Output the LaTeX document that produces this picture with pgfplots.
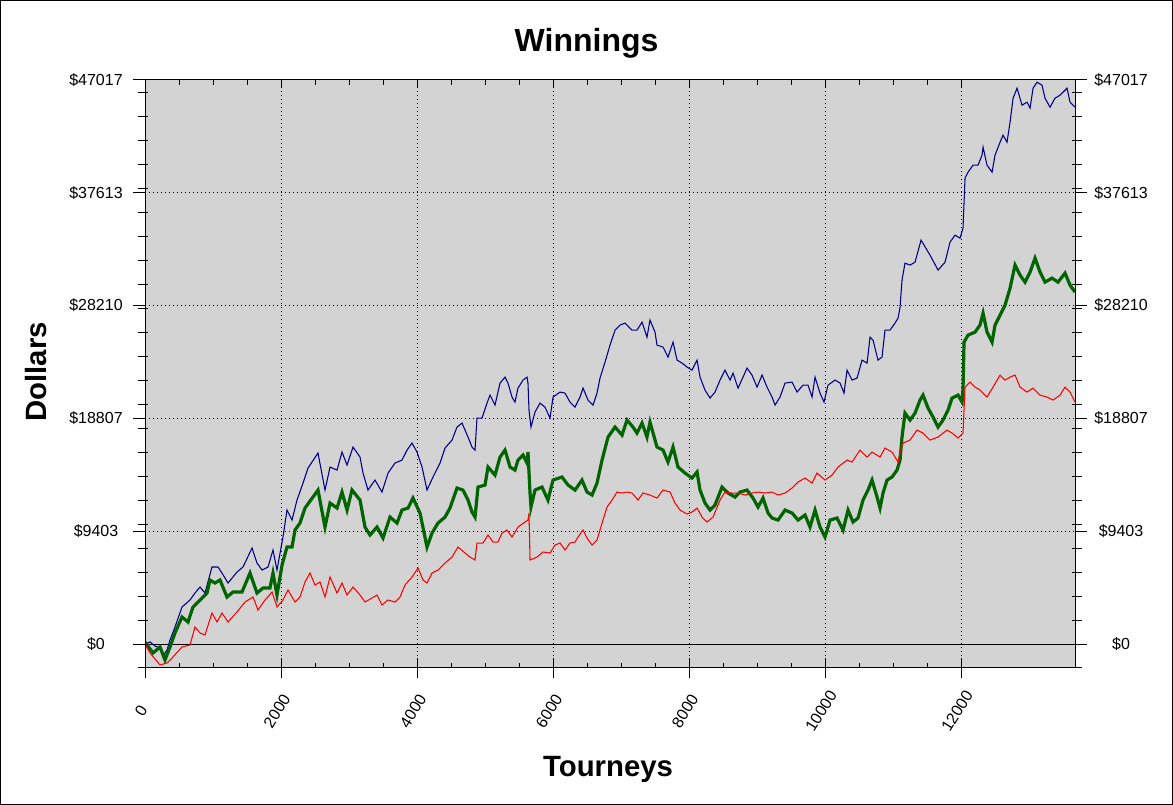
\documentclass[border=0pt]{standalone}
\usepackage{fontspec}
\setmainfont{Liberation Sans}
\usepackage{pgfplots}
\pgfplotsset{compat=1.18}
\definecolor{bgGray}{RGB}{211,211,211}
\definecolor{navyB}{RGB}{0,0,140}
\definecolor{dGreen}{RGB}{0,100,0}
\definecolor{redL}{RGB}{255,0,0}
\pgfplotsset{
  base/.style={width=697.5pt, height=441pt, scale only axis,
    xmin=0, xmax=13676, ymin=-2000, ymax=47017,
    at={(108.75pt,102.75pt)}, anchor=south west,
    axis line style={line width=0.75pt},
    scaled ticks=false,
    every tick/.style={black, line width=0.75pt},
    ticklabel style={font=\fontsize{12}{14}\selectfont}},
  notext/.style={xticklabel={\mbox{}}, yticklabel={\mbox{}}},
}
\begin{document}
\begin{tikzpicture}
\useasboundingbox (0,0) rectangle (879.75pt,603.75pt);
\fill[white] (0,0) rectangle (879.75pt,603.75pt);
% main axis
\begin{axis}[base,
  axis background/.style={fill=bgGray},
  grid=major,
  major grid style={black, line width=0.75pt, dash pattern=on 0.75pt off 2.25pt},
  xtick={0,2000,4000,6000,8000,10000,12000},
  xticklabels={0,2000,4000,6000,8000,10000,12000},
  ytick={9403.4,18806.8,28210.2,37613.6,47017},
  yticklabels={\$9403,\$18807,\$28210,\$37613,\$47017},
  extra y ticks={0}, extra y tick labels={\$0},
  extra y tick style={major grid style={solid, black, line width=0.75pt}},
  major tick length=0pt, minor tick length=0pt,
  xtick pos=left, ytick pos=left,
  yticklabel style={anchor=center, xshift=-36.75pt},
  xticklabel style={anchor=center, xshift=-3pt, yshift=-32.25pt, rotate=58},
]
\addplot[navyB, line width=0.8pt] coordinates {
(0,0) (74,167) (147,-167) (221,-333) (265,-1000) (324,-500) (368,333) (441,1417) (544,3083) (662,3667)
(735,4250) (809,4750) (882,4250) (985,6417) (1074,6417) (1132,5917) (1221,5083) (1353,6000) (1441,6417) (1574,8000)
(1647,6750) (1721,6167) (1809,6417) (1882,7833) (1941,6167) (2029,8917) (2088,11167) (2162,10333) (2235,12000) (2324,13417)
(2397,14667) (2544,15917) (2647,12833) (2721,14750) (2824,14500) (2897,16000) (2971,14917) (3059,16417) (3162,15583) (3206,14250)
(3279,12833) (3382,13667) (3485,12667) (3574,14250) (3676,15083) (3779,15333) (3853,16167) (3926,16750) (4000,16000) (4074,14750)
(4147,12833) (4235,13917) (4338,15083) (4412,16333) (4515,17000) (4588,18083) (4662,18417) (4750,17250) (4809,16417) (4853,16167)
(4882,18833) (4956,18833) (5029,20083) (5074,20750) (5147,19917) (5221,21750) (5294,22250) (5338,21750) (5397,20583) (5441,20167)
(5485,21333) (5559,22000) (5618,22250) (5632,21750) (5647,19500) (5676,18083) (5735,19333) (5809,20083) (5882,19750) (5956,18833)
(6000,20583) (6103,21000) (6176,20917) (6250,20167) (6324,19750) (6397,20583) (6441,21333) (6515,20333) (6588,19917) (6647,20917)
(6691,22167) (6765,23500) (6838,24917) (6912,26167) (6985,26583) (7059,26750) (7162,26167) (7235,26167) (7309,26833) (7382,25583)
(7426,27000) (7500,26000) (7529,24917) (7618,24750) (7691,23917) (7765,25167) (7824,23667) (7897,23417) (7971,23083) (8044,22833)
(8118,23667) (8162,22250) (8235,21167) (8309,20500) (8382,21000) (8456,22000) (8529,22833) (8603,22000) (8647,22583) (8721,21333)
(8794,22250) (8853,23000) (8926,22417) (9000,21417) (9074,22417) (9147,21417) (9221,20583) (9265,19917) (9338,20583) (9412,21750)
(9515,21833) (9588,21000) (9676,21583) (9750,21583) (9809,20583) (9853,22250) (9926,20917) (9985,20167) (10044,21583) (10147,22000)
(10221,21750) (10279,20917) (10324,22833) (10397,22000) (10471,22167) (10544,23667) (10618,23417) (10662,25583) (10706,25333) (10779,23667)
(10838,23917) (10882,26167) (10956,26167) (11029,26750) (11074,27167) (11103,28083) (11132,30333) (11176,31750) (11250,31583) (11324,31833)
(11412,33667) (11544,32417) (11662,31167) (11765,31833) (11838,33500) (11912,34083) (11985,33833) (12029,34667) (12059,38833) (12103,39333)
(12176,39917) (12250,39917) (12309,40750) (12324,41417) (12382,39917) (12456,39333) (12500,40750) (12574,41833) (12618,42417) (12676,41833)
(12721,43500) (12765,45500) (12824,46333) (12897,44917) (12971,45167) (13015,44667) (13059,46333) (13118,46833) (13191,46583) (13235,45500)
(13309,44750) (13382,45500) (13456,45750) (13559,46333) (13603,45167) (13647,44917) (13676,44750)
};
\addplot[dGreen, line width=2.4pt] coordinates {
(0,167) (118,-750) (221,-250) (294,-1333) (368,-250) (441,917) (544,2250) (632,1833) (706,3083) (809,3667)
(912,4250) (956,5333) (1029,5083) (1103,5333) (1206,3917) (1294,4333) (1426,4333) (1544,5917) (1647,4250) (1735,4667)
(1838,4667) (1882,5917) (1941,4083) (2015,6583) (2088,8083) (2162,8083) (2206,9500) (2279,10083) (2353,11333) (2544,12833)
(2647,9750) (2721,11750) (2824,11333) (2897,12667) (2971,11167) (3044,12833) (3162,12000) (3235,9750) (3309,9083) (3412,9750)
(3500,8833) (3603,10583) (3706,10083) (3779,11167) (3868,11333) (3941,12167) (4044,10917) (4147,8083) (4221,9250) (4309,10083)
(4412,10583) (4485,11333) (4588,13000) (4676,12833) (4750,12000) (4809,11000) (4853,10583) (4897,13083) (5000,13250) (5044,14750)
(5147,14083) (5221,15583) (5294,16167) (5368,14750) (5441,14500) (5485,15333) (5559,15750) (5618,15083) (5632,16000) (5662,12583)
(5676,11417) (5735,12833) (5838,13083) (5926,12000) (6000,13667) (6132,13917) (6221,13250) (6324,12833) (6426,13667) (6500,12667)
(6574,12417) (6647,13417) (6721,15333) (6809,17250) (6912,18083) (7015,17417) (7088,18667) (7176,18083) (7235,17583) (7309,18417)
(7382,17250) (7426,18500) (7529,16417) (7618,16167) (7691,15167) (7765,16417) (7838,14750) (7941,14250) (8044,13833) (8118,14333)
(8162,12833) (8235,11750) (8309,11167) (8382,11583) (8485,13083) (8574,12583) (8676,12250) (8750,12667) (8853,12833) (8941,12167)
(9015,11417) (9088,12167) (9162,10917) (9221,10500) (9309,10333) (9412,11167) (9515,10917) (9603,10333) (9706,10750) (9779,9750)
(9853,11167) (9926,9750) (10000,8917) (10074,10333) (10176,10500) (10265,9500) (10338,11167) (10412,10167) (10485,10500) (10559,12000)
(10632,12833) (10691,13667) (10765,12250) (10809,11333) (10853,12583) (10912,13667) (10985,13917) (11059,14500) (11103,15333) (11132,17250)
(11176,19250) (11250,18667) (11324,19250) (11397,20333) (11441,20750) (11515,19667) (11588,18917) (11662,18083) (11735,18667) (11809,19500)
(11868,20500) (11956,20750) (12015,20167) (12029,21167) (12044,25167) (12103,25750) (12206,26000) (12279,26583) (12324,27583) (12382,26000)
(12456,25167) (12500,26583) (12574,27417) (12647,28250) (12721,29667) (12794,31583) (12868,30750) (12941,30167) (13015,31000) (13088,32167)
(13162,31000) (13235,30167) (13338,30500) (13426,30167) (13529,30917) (13603,29917) (13676,29333)
};
\addplot[redL, line width=0.8pt] coordinates {
(0,0) (74,-750) (221,-1750) (324,-1583) (412,-1083) (544,-250) (662,-83) (735,1417) (809,917) (882,750)
(985,2583) (1059,1833) (1132,2583) (1221,1833) (1353,2667) (1471,3500) (1588,3917) (1662,2833) (1765,3667) (1868,4333)
(1941,3083) (2029,3667) (2103,4500) (2206,3500) (2279,3917) (2353,5167) (2426,5917) (2500,4917) (2574,5167) (2647,3917)
(2721,5583) (2824,4250) (2897,5083) (2971,4083) (3059,4750) (3162,4083) (3235,3500) (3338,3833) (3412,4083) (3485,3250)
(3574,3667) (3676,3500) (3750,3917) (3824,4917) (3926,5583) (4015,6333) (4088,5333) (4147,5083) (4221,5917) (4309,6167)
(4412,6750) (4515,7250) (4603,8083) (4706,7583) (4779,7250) (4853,7000) (4882,8417) (4971,8417) (5044,9083) (5118,8500)
(5191,8500) (5250,9250) (5324,9500) (5397,8917) (5485,9750) (5588,10167) (5632,10333) (5647,10917) (5662,7000) (5765,7250)
(5853,7667) (5956,7583) (6029,8250) (6103,8417) (6176,7833) (6250,8417) (6324,8500) (6368,8917) (6441,9500) (6500,8833)
(6574,8250) (6647,8667) (6721,10083) (6794,11417) (6868,12000) (6941,12667) (7015,12583) (7088,12667) (7162,12583) (7250,12000)
(7324,12583) (7426,12417) (7529,12167) (7618,12833) (7721,12667) (7794,11750) (7868,11167) (7971,10833) (8044,11000) (8118,11333)
(8191,10583) (8265,10167) (8353,10583) (8456,12000) (8529,12667) (8632,12583) (8721,12583) (8824,12417) (8926,12583) (9015,12667)
(9118,12583) (9221,12667) (9309,12417) (9412,12583) (9515,13000) (9603,13500) (9706,13833) (9809,13417) (9882,14250) (10000,13667)
(10103,14083) (10191,14750) (10324,15333) (10397,15167) (10515,16167) (10618,15583) (10691,16000) (10809,15583) (10882,16333) (10985,16000)
(11074,15167) (11103,16000) (11147,16750) (11250,17000) (11353,17833) (11441,17583) (11544,17000) (11662,17250) (11794,17833) (11868,17583)
(11956,17167) (12029,17583) (12059,21417) (12132,21833) (12206,21417) (12279,21167) (12382,20583) (12471,21417) (12574,22417) (12647,22000)
(12721,22250) (12794,22417) (12868,21417) (12971,21000) (13059,21333) (13162,20750) (13265,20583) (13353,20333) (13456,20750) (13529,21417)
(13603,21000) (13676,20167)
};
\end{axis}
% left y ticks
\begin{axis}[base, notext,
  xtick=\empty,
  ytick={0,9403.4,18806.8,28210.2,37613.6,47017},
  minor ytick={-2000,0,...,46000},
  ytick pos=left, tick align=outside,
  major tick length=9pt, minor tick length=7.5pt,
  minor tick style={xshift=2.25pt},
]
\end{axis}
% right y ticks and labels
\begin{axis}[base,
  xtick=\empty,
  ytick={0,9403.4,18806.8,28210.2,37613.6,47017},
  yticklabels={\$0,\$9403,\$18807,\$28210,\$37613,\$47017},
  minor ytick={-2000,0,...,46000},
  ytick pos=right, yticklabel pos=right, tick align=outside,
  major tick length=9pt, minor tick length=7.5pt,
  minor tick style={xshift=-2.25pt},
  yticklabel style={anchor=center, xshift=25.5pt},
]
\end{axis}
% bottom x ticks
\begin{axis}[base, notext,
  ytick=\empty,
  xtick={0,2000,...,12000},
  minor tick num=3,
  xtick pos=left, tick align=center,
  major tick length=15pt, minor tick length=3.75pt,
  minor tick style={yshift=1.875pt},
]
\end{axis}
% top x ticks
\begin{axis}[base, notext,
  ytick=\empty,
  xtick={0,2000,...,12000},
  minor tick num=3,
  xtick pos=right, tick align=inside,
  major tick length=6pt, minor tick length=3.75pt,
]
\end{axis}
\node[anchor=base, font=\fontsize{24}{28}\selectfont\bfseries] at (439.9pt,564.75pt) {Winnings};
\node[anchor=base, font=\fontsize{22}{26}\selectfont\bfseries] at (456pt,21.4pt) {Tourneys};
\node[anchor=base, rotate=90, font=\fontsize{22}{26}\selectfont\bfseries] at (35.25pt,324.75pt) {Dollars};
\draw[black, line width=0.75pt] (0.375pt,0.375pt) rectangle (879.375pt,603.375pt);
\end{tikzpicture}
\end{document}
